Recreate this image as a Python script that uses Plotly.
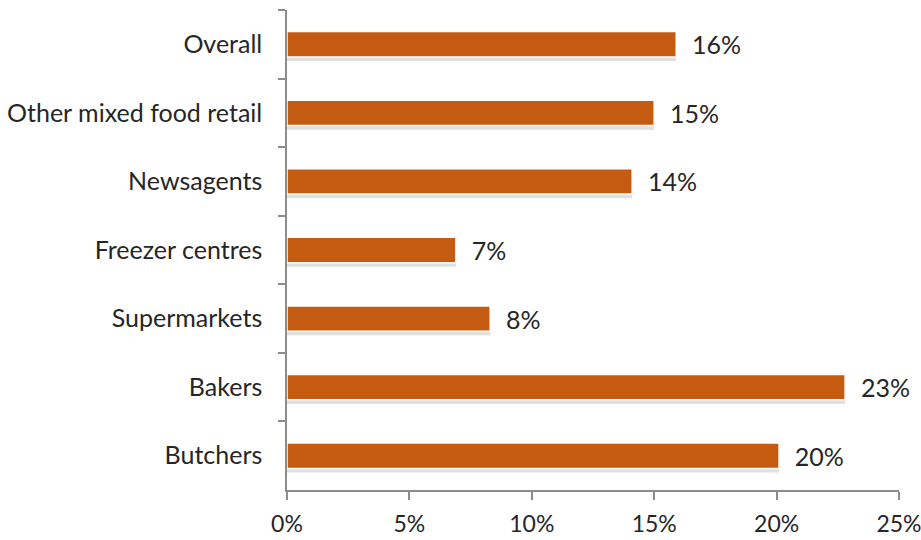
import plotly.graph_objects as go

categories = ["Overall", "Other mixed food retail", "Newsagents", "Freezer centres",
              "Supermarkets", "Bakers", "Butchers"]
values = [0.159, 0.150, 0.141, 0.069, 0.083, 0.228, 0.201]
labels = ["16%", "15%", "14%", "7%", "8%", "23%", "20%"]

axis_grey = "#8c8c8c"
text_col = "#262626"
font_name = "Lato"
fsize = 25
bar_w = 0.37

fig = go.Figure()
# soft shadow under each bar
fig.add_bar(
    x=values, y=categories, orientation="h",
    marker=dict(color="rgba(0,0,0,0.12)", line=dict(width=0)),
    width=bar_w, offset=-bar_w / 2 + 0.06,
    hoverinfo="skip",
)
fig.add_bar(
    x=values, y=categories, orientation="h",
    marker=dict(color="#c55a11", line=dict(color="#ffffff", width=1.5)),
    width=bar_w, offset=-bar_w / 2,
    text=["  " + t for t in labels], textposition="outside", constraintext="none",
    textfont=dict(size=fsize, color=text_col, family=font_name),
    cliponaxis=False,
)

fig.update_layout(
    width=921, height=540,
    margin=dict(l=287, r=22, t=10, b=50),
    plot_bgcolor="white", paper_bgcolor="white",
    showlegend=False, barmode="overlay",
    font=dict(family=font_name, size=fsize, color=text_col),
)
fig.update_xaxes(
    range=[0, 0.25], dtick=0.05, tickformat=".0%",
    showgrid=False, zeroline=False, automargin=False,
    showline=True, linecolor=axis_grey, linewidth=1.5,
    ticks="outside", ticklen=8, tickcolor=axis_grey, tickwidth=1.5,
    tickfont=dict(size=23, color=text_col), ticklabelstandoff=5,
    ticklabeloverflow="allow",
)
fig.update_yaxes(
    autorange="reversed", type="category",
    showgrid=False, zeroline=False, automargin=False,
    showline=True, linecolor=axis_grey, linewidth=1.5,
    ticks="outside", tickson="boundaries", ticklen=7, tickcolor=axis_grey, tickwidth=1.5,
    tickfont=dict(size=fsize, color=text_col), ticklabelstandoff=18,
)

fig.write_html("out.html", config={"displayModeBar": False},
               post_script="document.body.style.margin='0';")
